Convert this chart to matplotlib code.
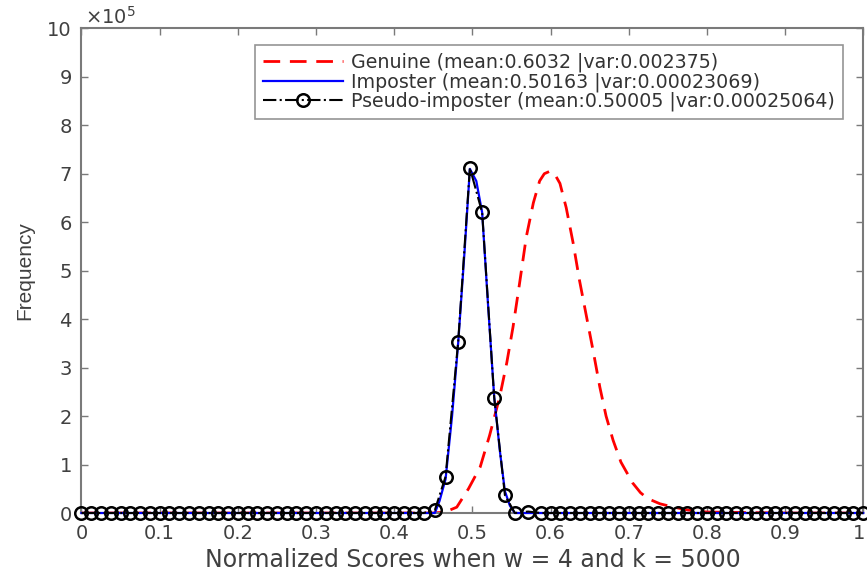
import matplotlib
matplotlib.use("Agg")
import matplotlib.pyplot as plt
import matplotlib.transforms as mtransforms

plt.rcParams['font.family'] = ['DejaVu Sans']
plt.rcParams['mathtext.fontset'] = 'dejavusans'

# ---------------- data (frequencies in units of 1e5) ----------------
genuine_x = [0.0, 0.1, 0.2, 0.3, 0.4, 0.45, 0.465, 0.48, 0.495, 0.51, 0.522,
             0.535, 0.544, 0.552, 0.56, 0.569, 0.578, 0.586, 0.592, 0.599,
             0.605, 0.612, 0.62, 0.629, 0.637, 0.646, 0.655, 0.663, 0.671,
             0.68, 0.69, 0.705, 0.715, 0.724, 0.74, 0.755, 0.776, 0.8, 0.85,
             0.9, 1.0]
genuine_y = [0.0, 0.0, 0.0, 0.0, 0.0, 0.0, 0.02, 0.12, 0.5, 0.95, 1.6,
             2.4, 3.1, 3.84, 4.7, 5.7, 6.4, 6.85, 7.0, 7.05,
             7.0, 6.8, 6.3, 5.56, 4.8, 4.05, 3.3, 2.6, 2.0,
             1.5, 1.05, 0.62, 0.42, 0.3, 0.19, 0.13, 0.06, 0.02, 0.01,
             0.0, 0.0]

imposter_x = [0.0, 0.44, 0.452, 0.458, 0.4657, 0.474, 0.4818, 0.49, 0.4968,
              0.505, 0.5125, 0.52, 0.5279, 0.535, 0.5416, 0.548, 0.5543,
              0.565, 1.0]
imposter_y = [0.0, 0.0, 0.0, 0.25, 0.7, 2.0, 3.5, 5.4, 7.1,
              6.85, 6.2, 4.3, 2.4, 1.3, 0.45, 0.15, 0.0,
              0.0, 0.0]

pseudo_x = [0.0, 0.0125, 0.025, 0.0375, 0.05, 0.0625, 0.075, 0.0875, 0.1,
            0.1125, 0.125, 0.1375, 0.15, 0.1625, 0.175, 0.1875, 0.2, 0.2125,
            0.225, 0.2375, 0.25, 0.2625, 0.275, 0.2875, 0.3, 0.3125, 0.325,
            0.3375, 0.35, 0.3625, 0.375, 0.3875, 0.4, 0.4125, 0.425, 0.4375,
            0.452, 0.4657, 0.4818, 0.4968, 0.5125, 0.5279, 0.5416, 0.5543,
            0.5713,
            0.5875, 0.6, 0.6125, 0.625, 0.6375, 0.65, 0.6625, 0.675, 0.6875,
            0.7, 0.7125, 0.725, 0.7375, 0.75, 0.7625, 0.775, 0.7875, 0.8,
            0.8125, 0.825, 0.8375, 0.85, 0.8625, 0.875, 0.8875, 0.9, 0.9125,
            0.925, 0.9375, 0.95, 0.9625, 0.975, 0.9875, 1.0]
pseudo_y = [0.0, 0.0, 0.0, 0.0, 0.0, 0.0, 0.0, 0.0, 0.0,
            0.0, 0.0, 0.0, 0.0, 0.0, 0.0, 0.0, 0.0, 0.0,
            0.0, 0.0, 0.0, 0.0, 0.0, 0.0, 0.0, 0.0, 0.0,
            0.0, 0.0, 0.0, 0.0, 0.0, 0.0, 0.0, 0.0, 0.0,
            0.06, 0.75, 3.53, 7.12, 6.2, 2.38, 0.37, 0.0,
            0.03,
            0.0, 0.0, 0.0, 0.0, 0.0, 0.0, 0.0, 0.0, 0.0,
            0.0, 0.0, 0.0, 0.0, 0.0, 0.0, 0.0, 0.0, 0.0,
            0.0, 0.0, 0.0, 0.0, 0.0, 0.0, 0.0, 0.0, 0.0,
            0.0, 0.0, 0.0, 0.0, 0.0, 0.0, 0.0]

labels = ["Genuine (mean:0.6032 |var:0.002375)",
          "Imposter (mean:0.50163 |var:0.00023069)",
          "Pseudo-imposter (mean:0.50005 |var:0.00025064)"]

x_ticks = [0, 0.1, 0.2, 0.3, 0.4, 0.5, 0.6, 0.7, 0.8, 0.9, 1]
x_ticklabels = ["0", "0.1", "0.2", "0.3", "0.4", "0.5", "0.6", "0.7", "0.8", "0.9", "1"]
y_ticks = [0, 1, 2, 3, 4, 5, 6, 7, 8, 9, 10]
y_ticklabels = ["0", "1", "2", "3", "4", "5", "6", "7", "8", "9", "10"]

# ---------------- plotting ----------------
GRAY = '#7a7a7a'
TXT = '#404040'

fig = plt.figure(figsize=(8.67, 5.73), dpi=100)
ax = fig.add_axes([0.094, 0.1047, 0.9017, 0.8459])

l1, = ax.plot(genuine_x, genuine_y, color='#ff0000', lw=2.0, dashes=(6, 3.5),
              label=labels[0], zorder=2)
l2, = ax.plot(imposter_x, imposter_y, color='#0000ff', lw=1.6,
              label=labels[1], zorder=3, clip_on=False)
l3, = ax.plot(pseudo_x, pseudo_y, color='black', lw=1.5, linestyle='-.',
              marker='o', markersize=9, markerfacecolor='none',
              markeredgecolor='black', markeredgewidth=1.8,
              label=labels[2], zorder=4, clip_on=False)

ax.set_xlim(0, 1)
ax.set_ylim(0, 10)
ax.set_xticks(x_ticks)
ax.set_xticklabels(x_ticklabels)
ax.set_yticks(y_ticks)
ax.set_yticklabels(y_ticklabels)
ax.tick_params(direction='in', length=5, width=1.0, color=GRAY,
               labelsize=14, labelcolor=TXT, top=True, right=True)
ax.tick_params(axis='x', pad=8)
ax.tick_params(axis='y', pad=7)
for s in ax.spines.values():
    s.set_color(GRAY)
    s.set_linewidth(1.5)

# keep the last x tick label inside the figure
last_lbl = ax.get_xticklabels()[-1]
last_lbl.set_transform(last_lbl.get_transform() +
                       mtransforms.ScaledTranslation(-4 / 100, 0, fig.dpi_scale_trans))

ax.set_xlabel("Normalized Scores when w = 4 and k = 5000", fontsize=17,
              color=TXT, labelpad=3.5)
ax.set_ylabel("Frequency", fontsize=15, color=TXT, labelpad=9,
              family=['Liberation Sans', 'DejaVu Sans'])
ax.text(0.0045, 1.0103, r"$\times10^{5}$", transform=ax.transAxes,
        fontsize=14, color=TXT, ha='left', va='baseline')

leg = ax.legend(handles=[l1, l2, l3], loc='upper right',
                bbox_to_anchor=(0.9738, 0.965), fontsize=13.7, frameon=True,
                fancybox=False, edgecolor=GRAY, handlelength=4.25,
                handletextpad=0.42, borderpad=0.4, labelspacing=0.0,
                borderaxespad=0.0)
leg.get_frame().set_linewidth(1.2)
for t in leg.get_texts():
    t.set_color('#333333')

fig.savefig("out.png", dpi=100)
